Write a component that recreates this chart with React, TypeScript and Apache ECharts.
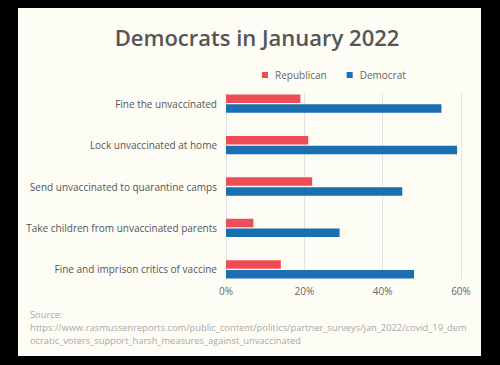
import React, { useEffect, useRef } from "react";
import * as echarts from "echarts";

const categories = [
  "Fine the unvaccinated",
  "Lock unvaccinated at home",
  "Send unvaccinated to quarantine camps",
  "Take children from unvaccinated parents",
  "Fine and imprison critics of vaccine",
];
const republican = [19, 21, 22, 7, 14];
const democrat = [55, 59, 45, 29, 48];
const xTicks = [0, 20, 40, 60];
const titleText = "Democrats in January 2022";
const sourceLines = [
  "Source:",
  "https://www.rasmussenreports.com/public_content/politics/partner_surveys/jan_2022/covid_19_dem",
  "ocratic_voters_support_harsh_measures_against_unvaccinated",
];

const FONT = "'Open Sans', sans-serif";

export default function App() {
  const ref = useRef<HTMLDivElement>(null);
  useEffect(() => {
    if (!ref.current) return;
    const chart = echarts.init(ref.current, null, { renderer: "svg" });
    chart.setOption({
      animation: false,
      backgroundColor: "#000000",
      graphic: [
        {
          type: "rect",
          z: -10,
          shape: { x: 18, y: 8, width: 463, height: 348 },
          style: { fill: "#fdfdf6" },
        },
        {
          type: "text",
          x: 257,
          y: 37,
          style: {
            text: titleText,
            fontSize: 22,
            fontWeight: 600,
            fontFamily: FONT,
            fill: "#555555",
            align: "center",
            verticalAlign: "middle",
          },
        },
        ...sourceLines.map((t, i) => ({
          type: "text",
          x: 30,
          y: 314 + i * 13,
          style: {
            text: t,
            fontSize: 9.3,
            fontFamily: FONT,
            fill: "#a8a8a8",
            align: "left",
            verticalAlign: "middle",
          },
        })),
      ],
      legend: {
        data: ["Republican", "Democrat"],
        left: 262,
        top: 69,
        padding: 0,
        icon: "rect",
        itemWidth: 6,
        itemHeight: 6,
        itemGap: 20,
        textStyle: {
          fontSize: 10,
          fontFamily: FONT,
          color: "#666666",
          lineHeight: 12,
          padding: [0, 0, 0, 2],
        },
      },
      grid: [
        { left: 226, width: 235, top: 83, height: 207 },
        { left: 226, width: 235, top: 93, height: 186 },
      ],
      xAxis: [
        {
          type: "value",
          gridIndex: 0,
          min: 0,
          max: 60,
          interval: 20,
          show: false,
        },
        {
          type: "value",
          gridIndex: 1,
          min: 0,
          max: 60,
          interval: 20,
          axisLine: { show: false },
          axisTick: { show: false },
          splitLine: { show: true, lineStyle: { color: "#e2e2e2", width: 1 } },
          axisLabel: {
            formatter: (v: number) => (xTicks.includes(v) ? v + "%" : ""),
            fontSize: 10,
            fontFamily: FONT,
            color: "#666666",
            margin: 7,
          },
        },
      ],
      yAxis: [
        {
          type: "category",
          gridIndex: 0,
          data: categories,
          inverse: true,
          axisLine: { show: false },
          axisTick: { show: false },
          axisLabel: {
            fontSize: 10,
            fontFamily: FONT,
            color: "#555555",
            margin: 9,
          },
        },
        {
          type: "category",
          gridIndex: 1,
          data: categories,
          show: false,
        },
      ],
      series: [
        {
          name: "Republican",
          type: "bar",
          xAxisIndex: 0,
          yAxisIndex: 0,
          data: republican,
          barWidth: 8.5,
          barGap: "15%",
          itemStyle: { color: "#ef4d55" },
          z: 3,
        },
        {
          name: "Democrat",
          type: "bar",
          xAxisIndex: 0,
          yAxisIndex: 0,
          data: democrat,
          barWidth: 8.5,
          barGap: "15%",
          itemStyle: { color: "#1a6eb2" },
          z: 3,
        },
      ],
    });
    return () => chart.dispose();
  }, []);
  return (
    <div
      ref={ref}
      style={{ position: "fixed", left: 0, top: 0, width: 500, height: 365 }}
    />
  );
}
